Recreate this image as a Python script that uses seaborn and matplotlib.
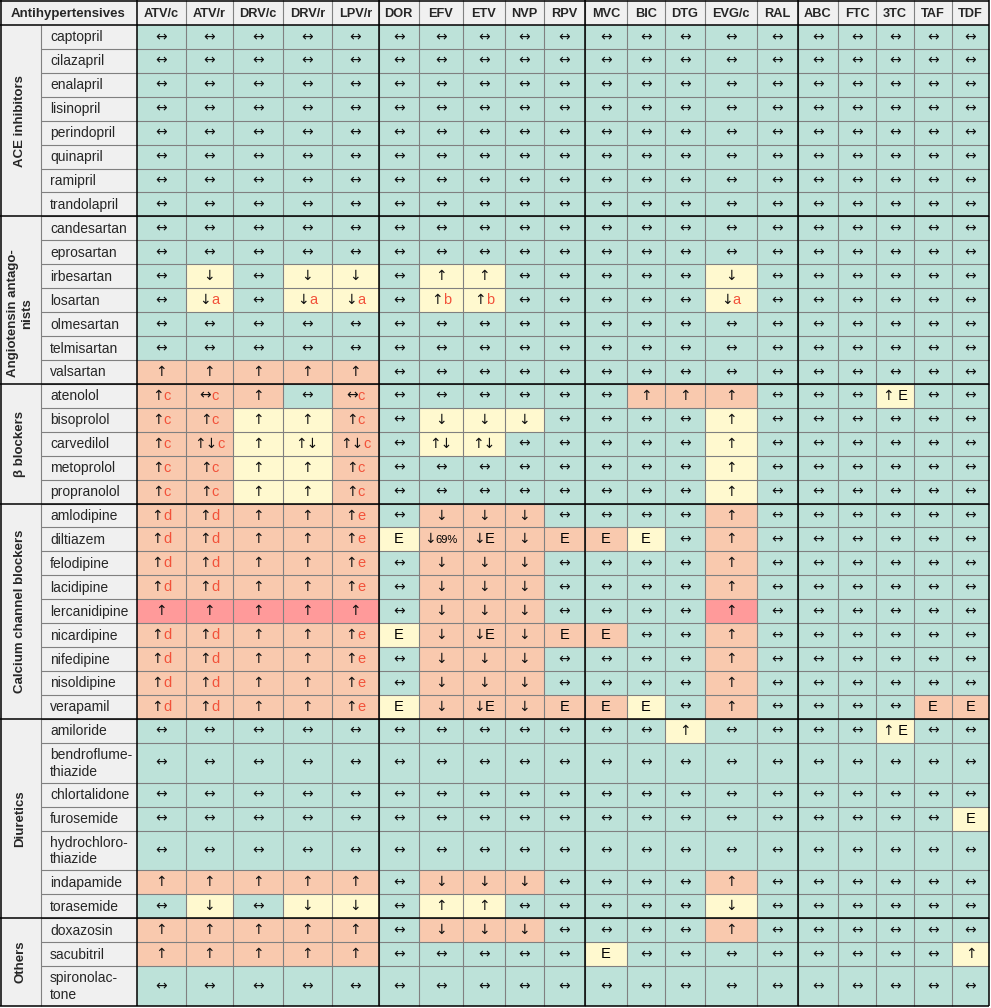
import matplotlib
matplotlib.use("Agg")
import numpy as np
import matplotlib.pyplot as plt
from matplotlib.colors import ListedColormap
from matplotlib.offsetbox import TextArea, HPacker, AnnotationBbox
import seaborn as sns

sns.set_theme(style="white")
plt.rcParams["font.family"] = ["Liberation Sans", "DejaVu Sans"]

# %% Data
arv = ["ATV/c", "ATV/r", "DRV/c", "DRV/r", "LPV/r", "DOR", "EFV", "ETV", "NVP", "RPV",
       "MVC", "BIC", "DTG", "EVG/c", "RAL", "ABC", "FTC", "3TC", "TAF", "TDF"]

groups = ["ACE inhibitors", "Angiotensin antago-\nnists", "β blockers",
          "Calcium channel blockers", "Diuretics", "Others"]
group_sizes = [8, 7, 5, 9, 7, 3]

antihypertensives = [
    "captopril", "cilazapril", "enalapril", "lisinopril", "perindopril", "quinapril",
    "ramipril", "trandolapril",
    "candesartan", "eprosartan", "irbesartan", "losartan", "olmesartan", "telmisartan",
    "valsartan",
    "atenolol", "bisoprolol", "carvedilol", "metoprolol", "propranolol",
    "amlodipine", "diltiazem", "felodipine", "lacidipine", "lercanidipine", "nicardipine",
    "nifedipine", "nisoldipine", "verapamil",
    "amiloride", "bendroflume-\nthiazide", "chlortalidone", "furosemide",
    "hydrochloro-\nthiazide", "indapamide", "torasemide",
    "doxazosin", "sacubitril", "spironolac-\ntone",
]

# effect on drug level, comma separated, one entry per ARV column
NONE = ",".join(["↔"] * 20)
effects = [
    NONE, NONE, NONE, NONE, NONE, NONE, NONE, NONE,
    # angiotensin antagonists
    NONE,
    NONE,
    "↔,↓,↔,↓,↓,↔,↑,↑,↔,↔,↔,↔,↔,↓,↔,↔,↔,↔,↔,↔",
    "↔,↓a,↔,↓a,↓a,↔,↑b,↑b,↔,↔,↔,↔,↔,↓a,↔,↔,↔,↔,↔,↔",
    NONE,
    NONE,
    "↑,↑,↑,↑,↑,↔,↔,↔,↔,↔,↔,↔,↔,↔,↔,↔,↔,↔,↔,↔",
    # beta blockers
    "↑c,↔c,↑,↔,↔c,↔,↔,↔,↔,↔,↔,↑,↑,↑,↔,↔,↔,↑ E,↔,↔",
    "↑c,↑c,↑,↑,↑c,↔,↓,↓,↓,↔,↔,↔,↔,↑,↔,↔,↔,↔,↔,↔",
    "↑c,↑↓c,↑,↑↓,↑↓c,↔,↑↓,↑↓,↔,↔,↔,↔,↔,↑,↔,↔,↔,↔,↔,↔",
    "↑c,↑c,↑,↑,↑c,↔,↔,↔,↔,↔,↔,↔,↔,↑,↔,↔,↔,↔,↔,↔",
    "↑c,↑c,↑,↑,↑c,↔,↔,↔,↔,↔,↔,↔,↔,↑,↔,↔,↔,↔,↔,↔",
    # calcium channel blockers
    "↑d,↑d,↑,↑,↑e,↔,↓,↓,↓,↔,↔,↔,↔,↑,↔,↔,↔,↔,↔,↔",
    "↑d,↑d,↑,↑,↑e,E,↓69%,↓E,↓,E,E,E,↔,↑,↔,↔,↔,↔,↔,↔",
    "↑d,↑d,↑,↑,↑e,↔,↓,↓,↓,↔,↔,↔,↔,↑,↔,↔,↔,↔,↔,↔",
    "↑d,↑d,↑,↑,↑e,↔,↓,↓,↓,↔,↔,↔,↔,↑,↔,↔,↔,↔,↔,↔",
    "↑,↑,↑,↑,↑,↔,↓,↓,↓,↔,↔,↔,↔,↑,↔,↔,↔,↔,↔,↔",
    "↑d,↑d,↑,↑,↑e,E,↓,↓E,↓,E,E,↔,↔,↑,↔,↔,↔,↔,↔,↔",
    "↑d,↑d,↑,↑,↑e,↔,↓,↓,↓,↔,↔,↔,↔,↑,↔,↔,↔,↔,↔,↔",
    "↑d,↑d,↑,↑,↑e,↔,↓,↓,↓,↔,↔,↔,↔,↑,↔,↔,↔,↔,↔,↔",
    "↑d,↑d,↑,↑,↑e,E,↓,↓E,↓,E,E,E,↔,↑,↔,↔,↔,↔,E,E",
    # diuretics
    "↔,↔,↔,↔,↔,↔,↔,↔,↔,↔,↔,↔,↑,↔,↔,↔,↔,↑ E,↔,↔",
    NONE,
    NONE,
    "↔,↔,↔,↔,↔,↔,↔,↔,↔,↔,↔,↔,↔,↔,↔,↔,↔,↔,↔,E",
    NONE,
    "↑,↑,↑,↑,↑,↔,↓,↓,↓,↔,↔,↔,↔,↑,↔,↔,↔,↔,↔,↔",
    "↔,↓,↔,↓,↓,↔,↑,↑,↔,↔,↔,↔,↔,↓,↔,↔,↔,↔,↔,↔",
    # others
    "↑,↑,↑,↑,↑,↔,↓,↓,↓,↔,↔,↔,↔,↑,↔,↔,↔,↔,↔,↔",
    "↑,↑,↑,↑,↑,↔,↔,↔,↔,↔,E,↔,↔,↔,↔,↔,↔,↔,↔,↑",
    NONE,
]

# g = no interaction, y = weak interaction, o = potential interaction,
# r = do not coadminister; written in blocks of five columns
GREEN = "ggggg ggggg ggggg ggggg"
levels = [
    GREEN, GREEN, GREEN, GREEN, GREEN, GREEN, GREEN, GREEN,
    # angiotensin antagonists
    GREEN,
    GREEN,
    "gygyy gyygg gggyg ggggg",
    "gygyy gyygg gggyg ggggg",
    GREEN,
    GREEN,
    "ooooo ggggg ggggg ggggg",
    # beta blockers
    "ooogo ggggg gooog ggygg",
    "ooyyo gyyyg gggyg ggggg",
    "ooyyo gyygg gggyg ggggg",
    "ooyyo ggggg gggyg ggggg",
    "ooyyo ggggg gggyg ggggg",
    # calcium channel blockers
    "ooooo gooog gggog ggggg",
    "ooooo yoooo oygog ggggg",
    "ooooo gooog gggog ggggg",
    "ooooo gooog gggog ggggg",
    "rrrrr gooog gggrg ggggg",
    "ooooo yoooo oggog ggggg",
    "ooooo gooog gggog ggggg",
    "ooooo gooog gggog ggggg",
    "ooooo yoooo oygog gggoo",
    # diuretics
    "ggggg ggggg ggygg ggygg",
    GREEN,
    GREEN,
    "ggggg ggggg ggggg ggggy",
    GREEN,
    "ooooo gooog gggog ggggg",
    "gygyy gyygg gggyg ggggg",
    # others
    "ooooo gooog gggog ggggg",
    "ooooo ggggg ygggg ggggy",
    GREEN,
]

level_colors = {"g": "#bde2d9", "y": "#fff9cf", "o": "#f9c9ae", "r": "#ff9a9a"}
RED = "#f2523a"
GRAY = "#808080"
LABEL_BG = "#f0f0f0"
ARROW_FONT = "DejaVu Sans"
TEXT_FONT = "Liberation Sans"

# %% Layout (pixels)
W, H = 991, 1008
TOP, BOTTOM = 25, 1006
LEFT, RIGHT = 136.7, 989
GROUP_W = 40.7
col_w = [49, 47, 50, 49, 47, 40, 44, 42, 39, 41, 42, 38, 40, 52, 41, 40, 38, 38, 38, 37]
row_u = [5 if "\n" in n else 3 for n in antihypertensives]
label_dy = [0, 13, 0, 0, 0, 0]

order = "gyor"
codes = np.array([[order.index(c) for c in lv.replace(" ", "")] for lv in levels])
grid = np.repeat(np.repeat(codes, row_u, axis=0), col_w, axis=1)

xe = np.concatenate([[0], np.cumsum(col_w)])
ye = np.concatenate([[0], np.cumsum(row_u)])
sx = (RIGHT - LEFT) / xe[-1]
sy = (BOTTOM - TOP) / ye[-1]
xpx = LEFT + xe * sx
ypx = TOP + ye * sy
group_idx = np.concatenate([[0], np.cumsum(group_sizes)])

fig = plt.figure(figsize=(W / 100, H / 100), dpi=100)
fig.patch.set_facecolor("white")

bg = fig.add_axes([0, 0, 1, 1])
bg.set_xlim(0, W)
bg.set_ylim(H, 0)
bg.axis("off")
bg.add_patch(plt.Rectangle((0, 0), RIGHT, TOP, color=LABEL_BG, lw=0))
bg.add_patch(plt.Rectangle((0, TOP), LEFT, BOTTOM - TOP, color=LABEL_BG, lw=0))

# %% Heatmap cells
ax = fig.add_axes([LEFT / W, 1 - BOTTOM / H, (RIGHT - LEFT) / W, (BOTTOM - TOP) / H])
sns.heatmap(grid, cmap=ListedColormap([level_colors[c] for c in order]),
            vmin=-0.5, vmax=3.5, cbar=False, xticklabels=False, yticklabels=False,
            ax=ax, rasterized=True)
ax.set_xticks([])
ax.set_yticks([])


def cell_label(x, y, token):
    arrows = "".join(ch for ch in token if ch in "↑↓↔")
    rest = token[len(arrows):]
    if not rest:
        ax.text(x, y, arrows, ha="center", va="center", fontsize=10,
                family=ARROW_FONT, color="#111111")
        return
    if not arrows:
        ax.text(x, y, rest, ha="center", va="center", fontsize=10.5,
                family=TEXT_FONT, color="black")
        return
    if rest in ("a", "b", "c", "d", "e"):
        extra = (rest, RED, 10.5)
    elif rest == "69%":
        extra = (rest, "black", 8)
    else:
        extra = (rest, "black", 10.5)
    box = HPacker(children=[
        TextArea(arrows, textprops=dict(color="#111111", fontsize=10, family=ARROW_FONT)),
        TextArea(extra[0], textprops=dict(color=extra[1], fontsize=extra[2], family=TEXT_FONT)),
    ], align="baseline", pad=0, sep=0)
    ab = AnnotationBbox(box, (x, y), xycoords="data", frameon=False,
                        box_alignment=(0.5, 0.5), pad=0)
    ax.add_artist(ab)


for i, row in enumerate(effects):
    yc = (ye[i] + ye[i + 1]) / 2
    for j, tok in enumerate(row.split(",")):
        xc = (xe[j] + xe[j + 1]) / 2
        cell_label(xc, yc, tok)

# %% Overlay: lines and labels
ov = fig.add_axes([0, 0, 1, 1])
ov.set_xlim(0, W)
ov.set_ylim(H, 0)
ov.axis("off")
ov.patch.set_alpha(0)

# thin grid
ov.vlines(xpx[1:-1], 0, BOTTOM, colors=GRAY, lw=0.8)
ov.vlines(GROUP_W, TOP, BOTTOM, colors=GRAY, lw=0.8)
ov.hlines(ypx[1:-1], GROUP_W, RIGHT, colors=GRAY, lw=0.8)

# thick black separators
ov.vlines([0.5, LEFT, RIGHT] + list(xpx[[5, 10, 15]]), 0, BOTTOM, colors="black", lw=1.1)
ov.hlines([0.5, TOP, BOTTOM] + list(ypx[group_idx[1:-1]]), 0, RIGHT, colors="black", lw=1.1)

ov.text(LEFT / 2, TOP / 2 + 1.5, "Antihypertensives", ha="center", va="center",
        fontsize=9.5, fontweight="bold")
for j, name in enumerate(arv):
    ov.text((xpx[j] + xpx[j + 1]) / 2, TOP / 2 + 1.5, name, ha="center", va="center",
            fontsize=9.2, fontweight="bold")

for i, name in enumerate(antihypertensives):
    ov.text(50, (ypx[i] + ypx[i + 1]) / 2 + 0.5, name, ha="left", va="center",
            fontsize=10, linespacing=1.25)

for g, label in enumerate(groups):
    yc = (ypx[group_idx[g]] + ypx[group_idx[g + 1]]) / 2 + label_dy[g]
    ov.text(GROUP_W / 2, yc, label, ha="center", va="center", rotation=90,
            fontsize=9.5, fontweight="bold", multialignment="center", linespacing=1.2)

fig.savefig("out.png", dpi=100)
